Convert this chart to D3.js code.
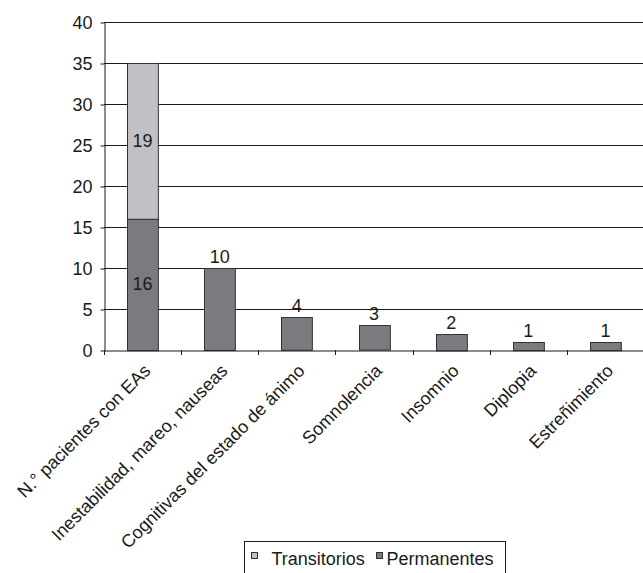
<!DOCTYPE html>
<html>
<head>
<meta charset="utf-8">
<script src="https://cdn.jsdelivr.net/npm/d3@7"></script>
<style>
  body { margin: 0; background: #fff; }
  svg { display: block; font-family: "Liberation Sans", Arial, sans-serif; }
</style>
</head>
<body>
<script>
// Categories and series values
const categories = [
    "N.° pacientes con EAs",
    "Inestabilidad, mareo, nauseas",
    "Cognitivas del estado de ánimo",
    "Somnolencia",
    "Insomnio",
    "Diplopia",
    "Estreñimiento"
];
const permanentes = [16, 10, 4, 3, 2, 1, 1];
const transitorios = [19, 0, 0, 0, 0, 0, 0];
const seriesNames = ["Transitorios", "Permanentes"];
const yTicks = [0, 5, 10, 15, 20, 25, 30, 35, 40];

const width = 643, height = 573;
const margin = { top: 22, right: -1, bottom: 223, left: 104 };
const fontSize = 18;

const colors = { Transitorios: "#c1c1c5", Permanentes: "#7b7b7f" };

const svg = d3.select("body").append("svg")
    .attr("width", width)
    .attr("height", height);

// Scales
const x = d3.scaleBand()
    .domain(categories)
    .range([margin.left, width - margin.right])
    .paddingInner(0.6)
    .paddingOuter(0.3);

const y = d3.scaleLinear()
    .domain([0, 40])
    .range([height - margin.bottom, margin.top]);

// Gridlines
svg.append("g")
    .selectAll("line")
    .data(yTicks.filter(d => d > 0))
    .join("line")
    .attr("x1", margin.left)
    .attr("x2", width)
    .attr("y1", d => y(d) + 0.5)
    .attr("y2", d => y(d) + 0.5)
    .attr("stroke", "#1a1a1a")
    .attr("stroke-width", 1);

// Y axis
const yAxis = svg.append("g")
    .attr("transform", `translate(${margin.left + 0.5},0.5)`)
    .call(d3.axisLeft(y).tickValues(yTicks).tickSize(4).tickPadding(8).tickSizeOuter(0));
yAxis.select(".domain").attr("stroke", "#1a1a1a");
yAxis.selectAll(".tick line").attr("stroke", "#1a1a1a");
yAxis.selectAll("text")
    .attr("font-size", fontSize)
    .attr("fill", "#1a1a1a")
    .attr("font-family", "Liberation Sans, Arial, sans-serif");

// Stacked data
const rows = categories.map((c, i) => ({ cat: c, Permanentes: permanentes[i], Transitorios: transitorios[i] }));
const stack = d3.stack().keys(["Permanentes", "Transitorios"]);
const stacked = stack(rows);

svg.append("g")
    .selectAll("g")
    .data(stacked)
    .join("g")
    .attr("fill", d => colors[d.key])
    .selectAll("rect")
    .data(d => d.filter(s => s[1] > s[0]))
    .join("rect")
    .attr("x", d => Math.round(x(d.data.cat)) + 0.5)
    .attr("y", d => Math.round(y(d[1])) + 0.5)
    .attr("width", x.bandwidth())
    .attr("height", d => y(d[0]) - y(d[1]))
    .attr("stroke", "#333")
    .attr("stroke-width", 1);

// X axis
const xAxis = svg.append("g")
    .attr("transform", `translate(0,${y(0) + 0.5})`)
    .call(d3.axisBottom(x).tickSize(0).tickFormat(""));
xAxis.select(".domain").attr("stroke", "#1a1a1a");

// Tick marks between categories
const step = x.step();
svg.append("g")
    .selectAll("line")
    .data(d3.range(categories.length + 1))
    .join("line")
    .attr("x1", i => Math.round(margin.left + i * step) + 0.5)
    .attr("x2", i => Math.round(margin.left + i * step) + 0.5)
    .attr("y1", y(0))
    .attr("y2", y(0) + 5)
    .attr("stroke", "#1a1a1a");

// Category labels (rotated)
svg.append("g")
    .selectAll("text")
    .data(categories)
    .join("text")
    .attr("transform", d => `translate(${x(d) + x.bandwidth() / 2 + 9},${y(0) + 22}) rotate(-45)`)
    .attr("text-anchor", "end")
    .attr("font-size", fontSize)
    .attr("fill", "#1a1a1a")
    .text(d => d);

// Value labels
const labelData = [];
rows.forEach(r => {
    const cx = x(r.cat) + x.bandwidth() / 2;
    if (r.Transitorios > 0) {
        labelData.push({ x: cx, y: y(r.Permanentes / 2) + 6, v: r.Permanentes });
        labelData.push({ x: cx, y: y(r.Permanentes + r.Transitorios / 2) + 6, v: r.Transitorios });
    } else {
        labelData.push({ x: cx, y: y(r.Permanentes) - 5, v: r.Permanentes });
    }
});
svg.append("g")
    .selectAll("text")
    .data(labelData)
    .join("text")
    .attr("x", d => d.x)
    .attr("y", d => d.y)
    .attr("text-anchor", "middle")
    .attr("font-size", fontSize)
    .attr("fill", "#1a1a1a")
    .text(d => d.v);

// Legend
const legend = svg.append("g").attr("transform", "translate(244.5,541.5)");
legend.append("rect")
    .attr("width", 261)
    .attr("height", 40)
    .attr("fill", "#fff")
    .attr("stroke", "#1a1a1a");
const legendX = [7, 132];
seriesNames.forEach((name, i) => {
    const g = legend.append("g").attr("transform", `translate(${legendX[i]},0)`);
    g.append("rect")
        .attr("y", 11)
        .attr("width", 6)
        .attr("height", 6)
        .attr("fill", colors[name])
        .attr("stroke", "#333");
    g.append("text")
        .attr("x", i === 0 ? 20 : 10)
        .attr("y", 23)
        .attr("font-size", fontSize)
        .attr("fill", "#1a1a1a")
        .text(name);
});
</script>
</body>
</html>
